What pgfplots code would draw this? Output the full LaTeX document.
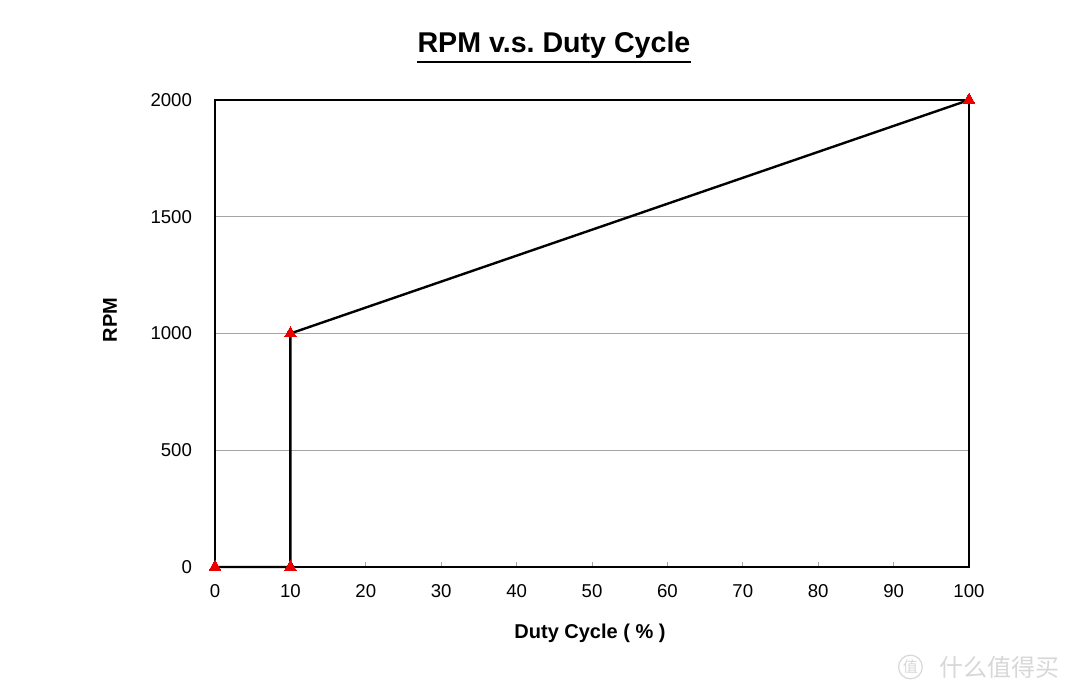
\documentclass[border=0pt]{standalone}
\usepackage{fontspec}
\setmainfont{Liberation Sans}
\newfontfamily\cjk{Noto Sans CJK SC}
\usepackage{pgfplots}
\pgfplotsset{compat=1.18}

\definecolor{gridgray}{RGB}{165,165,165}
\definecolor{markred}{RGB}{235,0,0}
\definecolor{wmgray}{RGB}{215,215,215}

\begin{document}
\frenchspacing
\begin{tikzpicture}
% page: 1080x694 px at 0.5pt/px, axis box lower-left at px (215,567)
\useasboundingbox (-107.5pt,-63.5pt) rectangle (432.5pt,283.5pt);
\begin{axis}[
    scale only axis,
    at={(0,0)}, anchor=south west,
    width=377pt, height=233.5pt,
    xmin=0, xmax=100, ymin=0, ymax=2000,
    xtick={0,10,...,100},
    ytick={0,500,...,2000},
    axis line style={black, line width=1pt},
    tick align=inside,
    xtick pos=bottom,
    ytick pos=left,
    major tick length=2.5pt,
    xtick style={gridgray, line width=0.5pt},
    ytick style={draw=none},
    ymajorgrids,
    grid style={gridgray, line width=0.5pt},
    ticklabel style={font=\fontsize{9.3pt}{11pt}\selectfont},
    /pgf/number format/assume math mode=true,
    /pgf/number format/set thousands separator={},
    xticklabel style={yshift=-5pt},
    yticklabel style={xshift=-8pt},
    clip=false,
  ]
  \addplot[black, line width=1.2pt, mark=triangle*, mark size=3.4pt,
           mark options={fill=markred, draw=markred, line width=0pt}]
    coordinates {(0,0) (10,0) (10,1000) (100,2000)};
\end{axis}
\node[font=\bfseries\fontsize{14.3pt}{16pt}\selectfont, inner sep=0pt] (t) at (169.5pt,261pt)
  {RPM v.s. Duty Cycle};
\draw[line width=1.1pt] ([yshift=-1.8pt]t.south west) -- ([yshift=-1.8pt]t.south east);
\node[font=\bfseries\fontsize{10pt}{12pt}\selectfont] at (187.5pt,-33pt)
  {Duty Cycle ( \% )};
\node[font=\bfseries\fontsize{10pt}{12pt}\selectfont, rotate=90] at (-52.5pt,123.5pt)
  {RPM};
\node[text=wmgray, font=\cjk\fontsize{12pt}{14pt}\selectfont, anchor=east] (wm) at (426pt,-50pt)
  {什么值得买};
\node[text=wmgray, draw=wmgray, circle, inner sep=0.6pt, line width=0.6pt,
      font=\cjk\fontsize{7.5pt}{9pt}\selectfont, anchor=east] at ([xshift=-5pt]wm.west) {值};
\end{tikzpicture}
\end{document}
